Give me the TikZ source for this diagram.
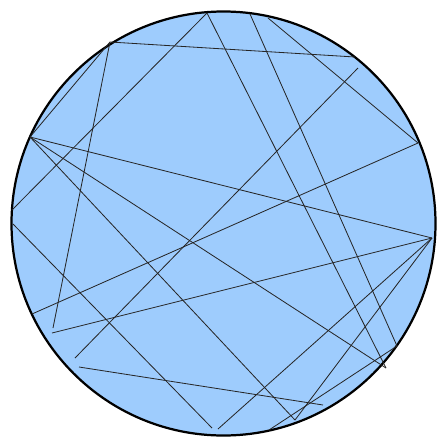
\documentclass[tikz,border=0pt]{standalone}
\usepackage{xcolor}
\definecolor{discblue}{HTML}{9ECCFD}
\usepackage{tikz}

\begin{document}
\begin{tikzpicture}[
  x=0.03cm,y=-0.03cm,
  disc/.style={fill=discblue,draw=black,line width=1.9pt},
  chord/.style={draw=black!85,line width=0.7pt},
]
\useasboundingbox (0,0) rectangle (440,438);

% Disc
\coordinate (ctr) at (223.5,223.5);
\draw[disc] (ctr) circle[radius=6.36cm];

% Points on the rim
\coordinate (pa) at (110,42);
\coordinate (pb) at (207,13);
\coordinate (pc) at (250,14);
\coordinate (pd) at (268,18);
\coordinate (pe) at (355,57);
\coordinate (pf) at (358,68);
\coordinate (pg) at (418,143);
\coordinate (ph) at (432,238);
\coordinate (pi) at (397,346);
\coordinate (pj) at (386,368);
\coordinate (pk) at (295,420);
\coordinate (pl) at (269,430);
\coordinate (pm) at (218,429);
\coordinate (pn) at (212,428);
\coordinate (po) at (323,405);
\coordinate (pp) at (79,367);
\coordinate (pq) at (75,358);
\coordinate (pr) at (52,333);
\coordinate (ps) at (53,328);
\coordinate (pt) at (32,314);
\coordinate (pu) at (13,224);
\coordinate (pv) at (12,210);
\coordinate (pw) at (30,137);

% Chords
\draw[chord] (pa) -- (pe);
\draw[chord] (pa) -- (ps);
\draw[chord] (pa) -- (pw);
\draw[chord] (pb) -- (pv);
\draw[chord] (pb) -- (pj);
\draw[chord] (pc) -- (pi);
\draw[chord] (pd) -- (pg);
\draw[chord] (pf) -- (pq);
\draw[chord] (pg) -- (pt);
\draw[chord] (pw) -- (ph);
\draw[chord] (pw) -- (pj);
\draw[chord] (pw) -- (pk);
\draw[chord] (pu) -- (pn);
\draw[chord] (pp) -- (po);
\draw[chord] (pr) -- (ph);
\draw[chord] (pm) -- (ph);
\draw[chord] (ph) -- (pk);
\draw[chord] (pi) -- (pl);
\end{tikzpicture}
\end{document}
